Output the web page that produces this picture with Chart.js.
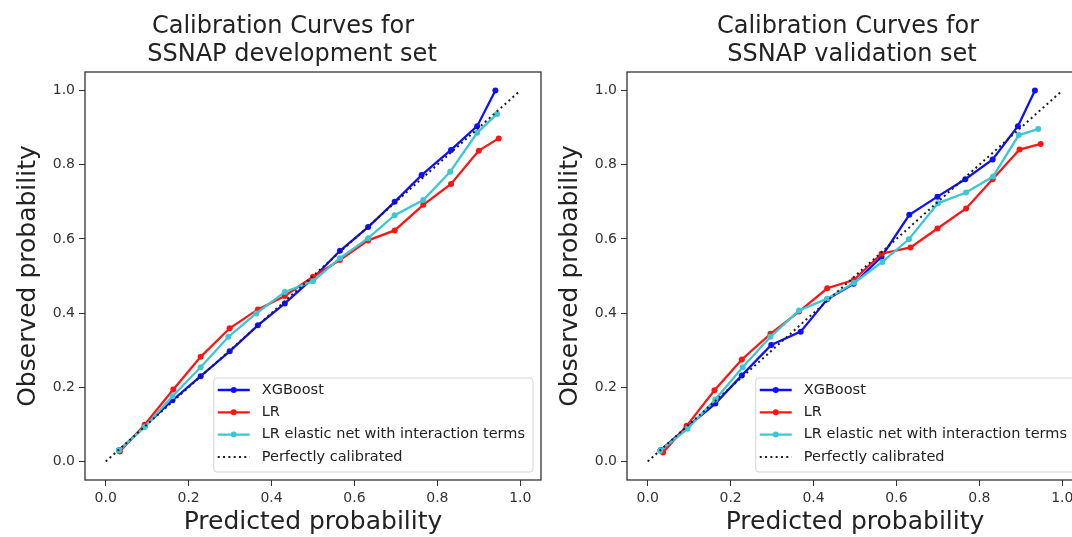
<!DOCTYPE html>
<html>
<head>
<meta charset="utf-8">
<title>Calibration Curves – SSNAP</title>
<script src="https://cdn.jsdelivr.net/npm/chart.js@4.4.1/dist/chart.umd.min.js"></script>
<style>
  html, body { margin: 0; padding: 0; background: #fff; overflow: hidden; width: 1072px; height: 537px; }
  .panel { position: absolute; top: 0; width: 560px; height: 537px; }
  #devPanel { left: 0; }
  #valPanel { left: 542px; }
</style>
</head>
<body>
<div class="panel" id="devPanel"><canvas id="devChart" width="560" height="537"></canvas></div>
<div class="panel" id="valPanel"><canvas id="valChart" width="560" height="537"></canvas></div>
<script>
'use strict';

/* ============================================================
   DATA
   ============================================================ */
const tickValues = [0.0, 0.2, 0.4, 0.6, 0.8, 1.0];

const seriesLabels = ['XGBoost', 'LR', 'LR elastic net with interaction terms', 'Perfectly calibrated'];

/* Development set */
const devXgbX = [0.032, 0.094, 0.161, 0.229, 0.299, 0.367, 0.432, 0.500, 0.565, 0.633, 0.697, 0.762, 0.833, 0.896, 0.940];
const devXgbY = [0.030, 0.095, 0.165, 0.230, 0.297, 0.367, 0.426, 0.494, 0.568, 0.632, 0.700, 0.772, 0.840, 0.904, 1.000];
const devLrX  = [0.034, 0.094, 0.163, 0.229, 0.299, 0.367, 0.432, 0.500, 0.565, 0.633, 0.697, 0.766, 0.833, 0.900, 0.948];
const devLrY  = [0.027, 0.099, 0.194, 0.282, 0.359, 0.410, 0.446, 0.498, 0.543, 0.596, 0.623, 0.692, 0.748, 0.838, 0.871];
const devEnX  = [0.032, 0.094, 0.161, 0.229, 0.296, 0.363, 0.432, 0.500, 0.565, 0.633, 0.697, 0.766, 0.831, 0.896, 0.944];
const devEnY  = [0.030, 0.093, 0.176, 0.254, 0.336, 0.399, 0.457, 0.486, 0.548, 0.602, 0.664, 0.705, 0.781, 0.886, 0.937];

/* Validation set */
const valXgbX = [0.031, 0.094, 0.163, 0.227, 0.298, 0.369, 0.433, 0.497, 0.564, 0.631, 0.699, 0.766, 0.832, 0.893, 0.934];
const valXgbY = [0.030, 0.092, 0.156, 0.232, 0.314, 0.350, 0.437, 0.479, 0.552, 0.665, 0.714, 0.761, 0.814, 0.904, 1.000];
const valLrX  = [0.037, 0.094, 0.161, 0.227, 0.296, 0.365, 0.433, 0.497, 0.564, 0.634, 0.699, 0.768, 0.832, 0.897, 0.948];
const valLrY  = [0.024, 0.096, 0.192, 0.275, 0.344, 0.404, 0.467, 0.489, 0.560, 0.577, 0.628, 0.682, 0.761, 0.841, 0.856];
const valEnX  = [0.030, 0.096, 0.163, 0.229, 0.296, 0.365, 0.433, 0.498, 0.566, 0.630, 0.700, 0.768, 0.833, 0.895, 0.942];
const valEnY  = [0.029, 0.088, 0.167, 0.254, 0.336, 0.407, 0.439, 0.482, 0.538, 0.599, 0.696, 0.725, 0.768, 0.880, 0.896];

/* Diagonal reference */
const perfectX = [0, 1];
const perfectY = [0, 1];

/* ============================================================
   STYLE
   ============================================================ */
const FONT = '"DejaVu Sans", "Liberation Sans", sans-serif';
const COLORS = { xgb: '#0f0fff', lr: '#ff1414', en: '#3cc6d6', perfect: '#1e1e1e' };

function zip(xs, ys) {
  return xs.map(function (x, i) { return { x: x, y: ys[i] }; });
}

function curve(label, xs, ys, color, order) {
  return {
    label          : label,
    data           : zip(xs, ys),
    borderColor    : color,
    backgroundColor: color,
    borderWidth    : 2.3,
    pointRadius    : 3,
    pointBorderWidth: 0,
    tension        : 0,
    order          : order
  };
}

function perfectLine() {
  return {
    label      : seriesLabels[3],
    data       : zip(perfectX, perfectY),
    borderColor: COLORS.perfect,
    borderWidth: 2,
    borderDash : [2, 3.3],
    pointRadius: 0,
    tension    : 0,
    order      : 0
  };
}

/* ============================================================
   PLUGINS – frame, two-line title, legend inside the axes
   ============================================================ */
const axesFrame = {
  id: 'axesFrame',
  afterDatasetsDraw: function (chart) {
    const a = chart.chartArea, ctx = chart.ctx;
    ctx.save();
    ctx.strokeStyle = '#333';
    ctx.lineWidth = 1.3;
    ctx.strokeRect(a.left, a.top, a.right - a.left, a.bottom - a.top);
    ctx.restore();
  }
};

const twoLineTitle = {
  id: 'twoLineTitle',
  afterDraw: function (chart, args, opts) {
    const ctx = chart.ctx;
    ctx.save();
    ctx.font = '24px ' + FONT;
    ctx.fillStyle = '#222';
    ctx.textAlign = 'center';
    ctx.textBaseline = 'alphabetic';
    opts.lines.forEach(function (t, i) {
      ctx.fillText(t, opts.centers[i], opts.baselines[i]);
    });
    ctx.restore();
  }
};

const insideLegend = {
  id: 'insideLegend',
  afterDraw: function (chart) {
    const ctx = chart.ctx, a = chart.chartArea;
    const sets = chart.data.datasets;
    const handle = 32, gap = 12, padL = 4, padR = 8, rowH = 22.3;
    ctx.save();
    ctx.font = '14.5px ' + FONT;
    let textW = 0;
    sets.forEach(function (d) { textW = Math.max(textW, ctx.measureText(d.label).width); });
    const boxW = padL + handle + gap + textW + padR;
    const boxH = 94;
    const bx = a.right - 8 - boxW;
    const by = a.bottom - 8 - boxH;

    ctx.beginPath();
    ctx.roundRect(bx, by, boxW, boxH, 3);
    ctx.fillStyle = 'rgba(255,255,255,0.85)';
    ctx.fill();
    ctx.strokeStyle = '#d4d4d4';
    ctx.lineWidth = 1;
    ctx.stroke();

    sets.forEach(function (d, i) {
      const cy = by + 12 + i * rowH;
      const x0 = bx + padL;
      ctx.beginPath();
      ctx.setLineDash(d.borderDash || []);
      ctx.strokeStyle = d.borderColor;
      ctx.lineWidth = d.borderWidth;
      ctx.moveTo(x0, cy);
      ctx.lineTo(x0 + handle, cy);
      ctx.stroke();
      ctx.setLineDash([]);
      if (d.pointRadius > 0) {
        ctx.beginPath();
        ctx.fillStyle = d.borderColor;
        ctx.arc(x0 + handle / 2, cy, d.pointRadius, 0, Math.PI * 2);
        ctx.fill();
      }
      ctx.fillStyle = '#222';
      ctx.textAlign = 'left';
      ctx.textBaseline = 'middle';
      ctx.fillText(d.label, x0 + handle + gap, cy);
    });
    ctx.restore();
  }
};

/* ============================================================
   CHART FACTORY
   ============================================================ */
function probAxis(title, isX) {
  return {
    type: 'linear',
    min : -0.05,
    max : 1.05,
    afterBuildTicks: function (s) { s.ticks = tickValues.map(function (v) { return { value: v }; }); },
    afterFit: function (s) {
      if (isX) { s.height = 57; } else { s.width = 85; }
    },
    ticks : {
      callback: function (v) { return v.toFixed(1); },
      font    : { family: FONT, size: 14 },
      color   : '#333',
      padding : 4
    },
    grid  : { drawOnChartArea: false, drawTicks: true, tickLength: 6, color: '#333', lineWidth: 1 },
    border: { display: false },
    title : {
      display: true,
      text   : title,
      font   : { family: FONT, size: 25 },
      color  : '#222',
      padding: { top: isX ? 3 : 13, bottom: 0 }
    }
  };
}

function buildChart(canvasId, datasets, titleOpts) {
  const canvas = document.getElementById(canvasId);
  return new Chart(canvas, {
    type: 'line',
    data: { datasets: datasets },
    options: {
      responsive: false,
      animation : false,
      layout    : { padding: { left: 0, top: 72, right: 19, bottom: 0 } },
      plugins   : {
        legend      : { display: false },
        tooltip     : { enabled: false },
        twoLineTitle: titleOpts
      },
      scales: {
        x: probAxis('Predicted probability', true),
        y: probAxis('Observed probability', false)
      }
    },
    plugins: [axesFrame, twoLineTitle, insideLegend]
  });
}

document.addEventListener('DOMContentLoaded', function () {
  buildChart('devChart', [
    curve(seriesLabels[0], devXgbX, devXgbY, COLORS.xgb, 3),
    curve(seriesLabels[1], devLrX,  devLrY,  COLORS.lr,  2),
    curve(seriesLabels[2], devEnX,  devEnY,  COLORS.en,  1),
    perfectLine()
  ], {
    lines    : ['Calibration Curves for', 'SSNAP development set'],
    centers  : [283, 292],
    baselines: [33, 61]
  });

  buildChart('valChart', [
    curve(seriesLabels[0], valXgbX, valXgbY, COLORS.xgb, 3),
    curve(seriesLabels[1], valLrX,  valLrY,  COLORS.lr,  2),
    curve(seriesLabels[2], valEnX,  valEnY,  COLORS.en,  1),
    perfectLine()
  ], {
    lines    : ['Calibration Curves for', 'SSNAP validation set'],
    centers  : [306, 310],
    baselines: [33, 61]
  });
});
</script>
</body>
</html>
